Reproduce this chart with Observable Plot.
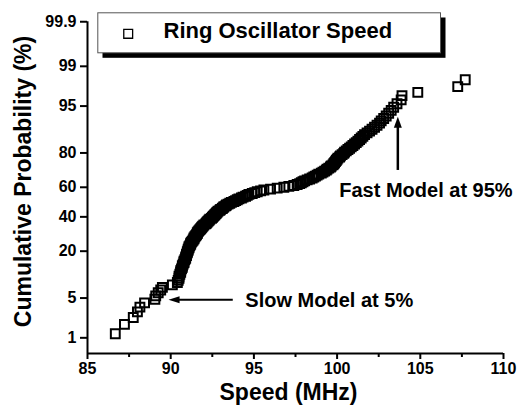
<!DOCTYPE html>
<html><head><meta charset="utf-8">
<script src="https://cdn.jsdelivr.net/npm/d3@7"></script>
<script src="https://cdn.jsdelivr.net/npm/@observablehq/plot@0.6"></script>
<style>html,body{margin:0;padding:0;background:#fff;}</style>
</head><body><div id="chart"></div>
<script>
// ---- data ----
const speedMHz = [
  86.67,87.22,87.75,88.0,88.15,88.43,89.05,89.1,89.25,89.4,
  89.5,90.1,90.4,90.45,90.5,90.5,90.55,90.6,90.6,90.65,
  90.7,90.7,90.75,90.8,90.8,90.85,90.9,90.9,90.95,90.95,
  91.0,91.0,91.05,91.05,91.1,91.1,91.15,91.2,91.2,91.25,
  91.3,91.35,91.4,91.4,91.45,91.5,91.55,91.6,91.6,91.65,
  91.7,91.75,91.8,91.85,91.9,91.95,92.0,92.1,92.15,92.2,
  92.25,92.3,92.35,92.45,92.5,92.55,92.6,92.65,92.7,92.75,
  92.8,92.85,92.95,93.0,93.1,93.15,93.2,93.3,93.35,93.45,
  93.55,93.65,93.8,93.9,94.0,94.1,94.25,94.35,94.5,94.6,
  94.7,94.9,95.05,95.2,95.4,95.6,96.0,96.4,96.8,97.1,
  97.4,97.6,97.75,97.85,97.95,98.05,98.2,98.35,98.5,98.6,
  98.7,98.8,98.9,99.05,99.15,99.25,99.35,99.4,99.5,99.6,
  99.65,99.75,99.8,99.85,99.9,99.95,100.0,100.05,100.15,100.2,
  100.3,100.4,100.45,100.55,100.65,100.75,100.85,100.95,101.05,101.15,
  101.25,101.35,101.45,101.55,101.65,101.8,101.95,102.1,102.25,102.4,
  102.55,102.65,102.8,102.95,103.1,103.25,103.4,103.6,103.85,103.9,
  104.85,107.25,107.7
];
const cumPct = [
  1.2,1.8,2.4,3.0,3.6,4.2,4.8,5.4,6.0,6.6,
  7.2,7.8,8.4,9.0,9.6,10.2,10.8,11.4,12.0,12.6,
  13.2,13.8,14.4,15.0,15.6,16.2,16.8,17.4,18.0,18.6,
  19.2,19.8,20.4,21.0,21.6,22.2,22.8,23.4,24.0,24.6,
  25.2,25.8,26.4,27.0,27.6,28.2,28.8,29.4,30.0,30.6,
  31.2,31.8,32.4,33.0,33.6,34.2,34.8,35.4,36.0,36.6,
  37.2,37.8,38.4,39.0,39.6,40.2,40.8,41.4,42.0,42.6,
  43.2,43.8,44.4,45.0,45.6,46.2,46.8,47.4,48.0,48.6,
  49.2,49.8,50.4,51.0,51.6,52.2,52.8,53.4,54.0,54.6,
  55.2,55.8,56.4,57.0,57.6,58.2,58.8,59.4,60.0,60.6,
  61.2,61.8,62.4,63.0,63.6,64.2,64.8,65.4,66.0,66.6,
  67.2,67.8,68.4,69.0,69.6,70.2,70.8,71.4,72.0,72.6,
  73.2,73.8,74.4,75.0,75.6,76.2,76.8,77.4,78.0,78.6,
  79.2,79.8,80.4,81.0,81.6,82.2,82.8,83.4,84.0,84.6,
  85.2,85.8,86.4,87.0,87.6,88.2,88.8,89.4,90.0,90.6,
  91.2,91.8,92.4,93.0,93.6,94.2,94.8,95.4,96.0,96.6,
  97.0,97.6,98.2
];
const xTicks = [85, 90, 95, 100, 105, 110];
const xMinorTicks = [87.5, 92.5, 97.5, 102.5, 107.5];
const yTickPct = [1, 5, 20, 40, 60, 80, 95, 99, 99.9];
const yTickLabels = ["1", "5", "20", "40", "60", "80", "95", "99", "99.9"];
const legendLabel = "Ring Oscillator Speed";
const xTitle = "Speed (MHz)";
const yTitle = "Cumulative Probability (%)";
const fastLabel = "Fast Model at 95%";
const slowLabel = "Slow Model at 5%";

// ---- normal probability (probit) scale helper ----
function probit(p) {
  const a=[-3.969683028665376e+01,2.209460984245205e+02,-2.759285104469687e+02,1.383577518672690e+02,-3.066479806614716e+01,2.506628277459239e+00];
  const b=[-5.447609879822406e+01,1.615858368580409e+02,-1.556989798598866e+02,6.680131188771972e+01,-1.328068155288572e+01];
  const c=[-7.784894002430293e-03,-3.223964580411365e-01,-2.400758277161838e+00,-2.549732539343734e+00,4.374664141464968e+00,2.938163982698783e+00];
  const d=[7.784695709041462e-03,3.224671290700398e-01,2.445134137142996e+00,3.754408661907416e+00];
  const pl = 0.02425, ph = 1 - pl;
  let q, r;
  if (p < pl) { q = Math.sqrt(-2*Math.log(p)); return (((((c[0]*q+c[1])*q+c[2])*q+c[3])*q+c[4])*q+c[5])/((((d[0]*q+d[1])*q+d[2])*q+d[3])*q+1); }
  if (p <= ph) { q = p - 0.5; r = q*q; return (((((a[0]*r+a[1])*r+a[2])*r+a[3])*r+a[4])*r+a[5])*q/(((((b[0]*r+b[1])*r+b[2])*r+b[3])*r+b[4])*r+1); }
  q = Math.sqrt(-2*Math.log(1-p)); return -(((((c[0]*q+c[1])*q+c[2])*q+c[3])*q+c[4])*q+c[5])/((((d[0]*q+d[1])*q+d[2])*q+d[3])*q+1);
}
const z = pct => probit(pct / 100);

const data = speedMHz.map((s, i) => ({speed: s, z: z(cumPct[i])}));
const yTickZ = yTickPct.map(z);
const yTicks = yTickZ.map((v, i) => ({z: v, label: yTickLabels[i]}));
const zLow = z(0.473), zHigh = z(99.942);

const arrowUp = {draw(ctx) { ctx.moveTo(0, 0); ctx.lineTo(4, 11); ctx.lineTo(-4, 11); ctx.closePath(); }};
const arrowLeft = {draw(ctx) { ctx.moveTo(0, 0); ctx.lineTo(11, -3.5); ctx.lineTo(11, 3.5); ctx.closePath(); }};

const font = "'Liberation Sans', Arial, sans-serif";

const chart = Plot.plot({
  width: 521,
  height: 413,
  marginLeft: 87,
  marginRight: 18,
  marginTop: 12,
  marginBottom: 60,
  x: {domain: [85, 110]},
  y: {domain: [zLow, zHigh]},
  style: {fontFamily: font, fontSize: "16px", fontWeight: "bold", color: "black", background: "white"},
  marks: [
    // axis ticks
    Plot.axisX(xTicks, {tickSize: 6, strokeWidth: 2, label: null, tickFormat: () => ""}),
    Plot.axisX(xMinorTicks, {tickSize: 4, strokeWidth: 2, label: null, tickFormat: () => ""}),
    Plot.axisY(yTickZ, {tickSize: 7, strokeWidth: 2, label: null, tickFormat: () => ""}),
    // tick labels
    Plot.text(xTicks, {x: d => d, frameAnchor: "bottom", lineAnchor: "top", dy: 9, fontSize: 16, fontWeight: "bold", text: d => String(d)}),
    Plot.text(yTicks, {y: "z", frameAnchor: "left", textAnchor: "end", lineAnchor: "middle", dx: -11, fontSize: 16, fontWeight: "bold", text: "label"}),
    // axis lines
    Plot.ruleY([zLow], {x1: 85, x2: 110, strokeWidth: 2}),
    Plot.ruleX([85], {y1: zLow, y2: z(99.9), strokeWidth: 2}),
    // data
    Plot.dot(data, {x: "speed", y: "z", symbol: "square", r: 5, stroke: "black", strokeWidth: 2, fill: "none"}),
    // legend box with drop shadow
    Plot.frame({fill: "black", stroke: null, insetLeft: 15, insetRight: 58, insetTop: 5, insetBottom: 295.7}),
    Plot.frame({fill: "white", stroke: "#555", strokeWidth: 1, insetLeft: 10.3, insetRight: 63, insetTop: 0.3, insetBottom: 300.7}),
    Plot.dot([legendLabel], {frameAnchor: "top-left", dx: 40.7, dy: 21.3, symbol: "square", r: 5, stroke: "black", strokeWidth: 1.3, fill: "none"}),
    Plot.text([legendLabel], {frameAnchor: "top-left", textAnchor: "start", lineAnchor: "middle", dx: 76, dy: 18.3, fontSize: 22, fontWeight: "bold", text: d => d}),
    // axis titles
    Plot.text([yTitle], {frameAnchor: "left", rotate: -90, textAnchor: "middle", lineAnchor: "middle", dx: -64, dy: -1.5, fontSize: 23, fontWeight: "bold", text: d => d}),
    Plot.text([xTitle], {frameAnchor: "bottom", textAnchor: "middle", lineAnchor: "middle", dx: -7, dy: 39.4, fontSize: 23, fontWeight: "bold", text: d => d}),
    // annotations
    Plot.ruleX([103.65], {y1: z(70.6), y2: z(90.3), strokeWidth: 2.5}),
    Plot.dot([fastLabel], {x: 103.65, y: z(92.8), symbol: arrowUp, fill: "black", stroke: null}),
    Plot.text([fastLabel], {x: 105.34, y: z(58.1), textAnchor: "middle", lineAnchor: "middle", fontSize: 20, fontWeight: "bold", text: d => d}),
    Plot.ruleY([z(4.7)], {x1: 90.3, x2: 93.76, strokeWidth: 2}),
    Plot.dot([slowLabel], {x: 89.87, y: z(4.7), symbol: arrowLeft, fill: "black", stroke: null}),
    Plot.text([slowLabel], {x: 99.53, y: z(4.62), textAnchor: "middle", lineAnchor: "middle", fontSize: 20, fontWeight: "bold", text: d => d})
  ]
});
document.getElementById("chart").appendChild(chart);
</script>
</body></html>
